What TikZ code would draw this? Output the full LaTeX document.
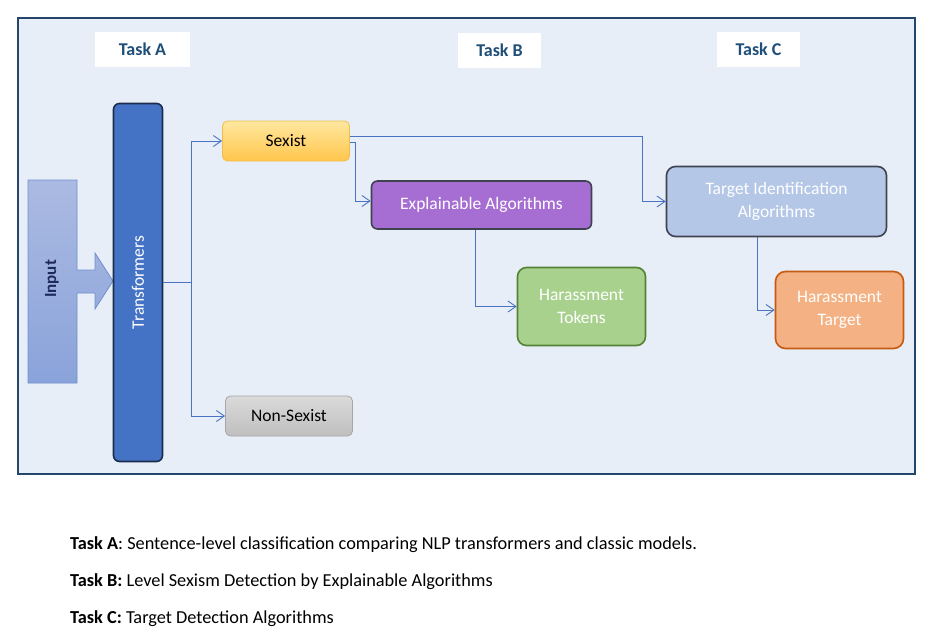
\documentclass[tikz,border=0pt]{standalone}
\usepackage{fontspec}
\setmainfont{Carlito}
\usetikzlibrary{arrows.meta,calc}
\definecolor{framebg}{HTML}{E8EEF8}
\definecolor{frameline}{HTML}{24466B}
\definecolor{hdrtext}{HTML}{1F4E79}
\definecolor{connc}{HTML}{4A74C2}
\definecolor{transfill}{HTML}{4472C4}
\definecolor{transline}{HTML}{1C2C4C}
\definecolor{inputtop}{HTML}{ABBAE2}
\definecolor{inputbot}{HTML}{8AA3DA}
\definecolor{inputline}{HTML}{6F8ECF}
\definecolor{inputtext}{HTML}{1F2A5C}
\definecolor{sexisttop}{HTML}{FFE79F}
\definecolor{sexistbot}{HTML}{FFC64C}
\definecolor{sexistline}{HTML}{F0BE4A}
\definecolor{explfill}{HTML}{A66ED2}
\definecolor{darkline}{HTML}{3F4250}
\definecolor{tidfill}{HTML}{B4C7E7}
\definecolor{tokfill}{HTML}{A9D18E}
\definecolor{tokline}{HTML}{548235}
\definecolor{htfill}{HTML}{F4B183}
\definecolor{htline}{HTML}{C55A11}
\definecolor{nstop}{HTML}{DADADA}
\definecolor{nsbot}{HTML}{BFBFBF}
\definecolor{nsline}{HTML}{A6A6A6}
\begin{document}
\begin{tikzpicture}[x=1pt,y=-1pt,
  every node/.style={font=\fontsize{17.5}{22.5}\selectfont},
  taskhdr/.style={fill=white, inner sep=0pt, text=hdrtext, font=\fontsize{18}{20}\selectfont\bfseries},
  box/.style={rounded corners=7pt, align=center, inner sep=0pt, text=white},
  conn/.style={draw=connc, line width=0.9pt, -{Straight Barb[length=8pt,width=11pt]}},
  caption/.style={anchor=base west, inner sep=0pt, text=black, font=\fontsize{18.3}{20}\selectfont}]
\useasboundingbox (0,0) rectangle (934,642);
\fill[white] (0,0) rectangle (934,642);
% frame
\path[fill=framebg, draw=frameline, line width=1.6pt] (18,18) rectangle (915,474);
% task headers
\node[taskhdr, minimum width=95pt, minimum height=35pt] (hA) at (142.5,49.5) {Task A};
\node[taskhdr, minimum width=83pt, minimum height=35pt] (hB) at (499.5,50.5) {Task B};
\node[taskhdr, minimum width=83pt, minimum height=35pt] (hC) at (758.5,49.5) {Task C};
% input arrow
\path[draw=inputline, line width=0.8pt, top color=inputtop, bottom color=inputbot]
  (28,180) -- (77,180) -- (77,270) -- (95,270) -- (95,253) -- (113,281) -- (95,309)
  -- (95,293) -- (77,293) -- (77,383) -- (28,383) -- cycle;
\node[rotate=90, text=inputtext, font=\fontsize{17}{18}\selectfont\bfseries] (inp) at (52,279) {Input};
% transformers
\node[box, fill=transfill, draw=transline, line width=1.6pt, rounded corners=6pt,
      minimum width=49pt, minimum height=358pt] (trans) at (138,282.5) {};
\node[rotate=90, text=white, font=\fontsize{17.5}{18}\selectfont] (transtxt) at (trans.center) {Transformers};
% class boxes
\node[box, text=black, top color=sexisttop, bottom color=sexistbot, draw=sexistline, line width=0.8pt,
      rounded corners=5pt, minimum width=127pt, minimum height=40pt] (sexist) at (286,141) {Sexist};
\node[box, text=black, top color=nstop, bottom color=nsbot, draw=nsline, line width=0.8pt,
      rounded corners=5pt, minimum width=127pt, minimum height=40pt] (nonsexist) at (289,416) {Non-Sexist};
\node[box, fill=explfill, draw=darkline, line width=1.6pt, rounded corners=6pt,
      minimum width=220pt, minimum height=48pt] (expl) at (481.5,205) {Explainable Algorithms};
\node[box, fill=tokfill, draw=tokline, line width=1.6pt, rounded corners=9pt,
      minimum width=128pt, minimum height=78pt] (tok) at (581.5,306.5) {Harassment\\Tokens};
\node[box, fill=tidfill, draw=darkline, line width=1.6pt, rounded corners=9pt,
      minimum width=220pt, minimum height=70pt] (tid) at (776.5,201.5) {Target Identification\\Algorithms};
\node[box, fill=htfill, draw=htline, line width=1.6pt, rounded corners=10pt,
      minimum width=128pt, minimum height=77pt] (ht) at (839.5,310) {Harassment\\Target};
% connectors
\draw[conn] (trans.east) -- ++(28,0) |- (sexist.west);
\draw[conn] (trans.east) -- ++(28,0) |- (nonsexist.west);
\draw[conn] ([yshift=-1pt]sexist.east) -- ++(6,0) |- ([yshift=4pt]expl.west);
\draw[conn] ([yshift=5pt]sexist.east) -| ([xshift=-23pt]tid.west) -- (tid.west);
\draw[conn] ([xshift=-6.5pt]expl.south) |- (tok.west);
\draw[conn] ([xshift=-19.5pt]tid.south) |- (ht.west);
% captions
\node[caption] (capA) at (70,549) {\textbf{Task A}: Sentence-level classification comparing NLP transformers and classic models.};
\node[caption] (capB) at (70,586) {\textbf{Task B:} Level Sexism Detection by Explainable Algorithms};
\node[caption] (capC) at (70,623) {\textbf{Task C:} Target Detection Algorithms};
\end{tikzpicture}
\end{document}
